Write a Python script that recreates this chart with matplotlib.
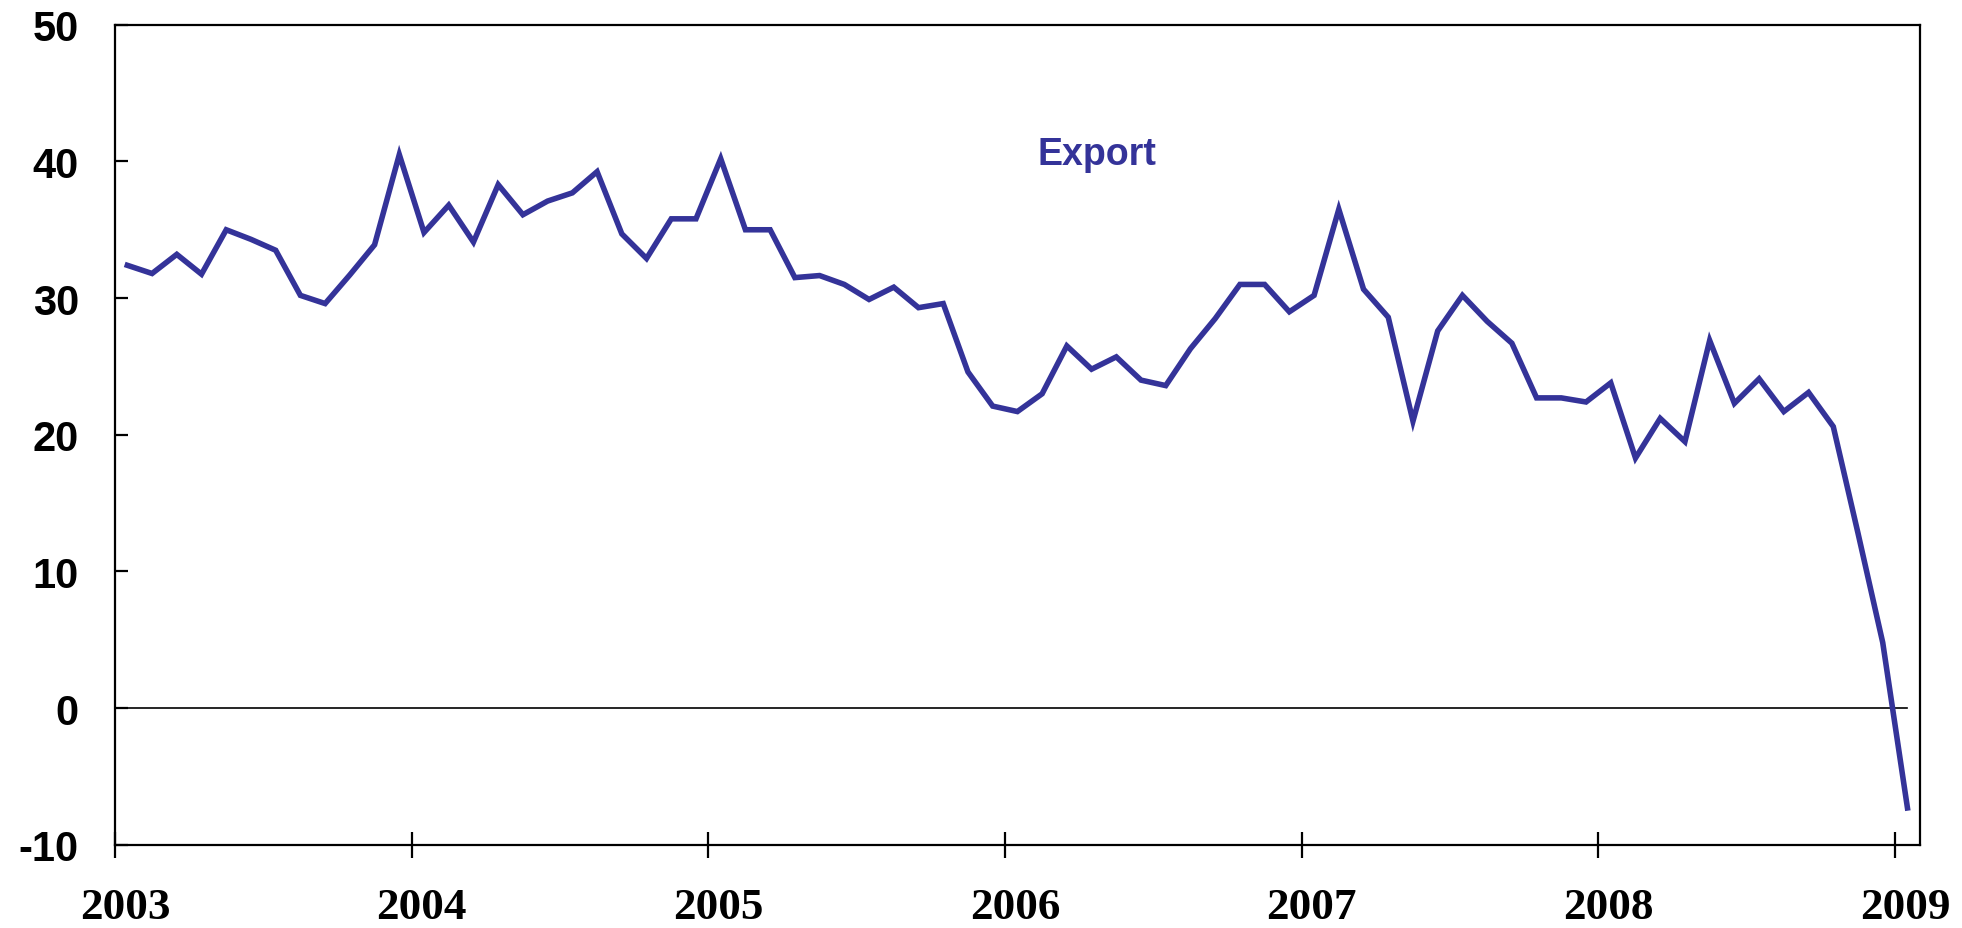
import numpy as np
import matplotlib
matplotlib.use("Agg")
import matplotlib.pyplot as plt
import matplotlib.transforms as mtransforms

# monthly export growth, Jan 2003 .. Jan 2009
export = [32.4, 31.8, 33.2, 31.75, 35.0, 34.3, 33.5, 30.2, 29.6, 31.7, 33.9, 40.5,
          34.8, 36.8, 34.1, 38.3, 36.1, 37.1, 37.7, 39.25, 34.7, 32.9, 35.8, 35.8,
          40.2, 35.0, 35.0, 31.5, 31.65, 31.0, 29.9, 30.8, 29.3, 29.6, 24.6, 22.1,
          21.7, 23.0, 26.5, 24.8, 25.7, 24.0, 23.6, 26.3, 28.5, 31.0, 31.0, 29.0,
          30.2, 36.5, 30.65, 28.6, 21.0, 27.6, 30.2, 28.3, 26.7, 22.7, 22.7, 22.4,
          23.8, 18.3, 21.2, 19.5, 26.9, 22.3, 24.1, 21.7, 23.1, 20.6, 12.8, 4.8,
          -7.3]
years = [2003, 2004, 2005, 2006, 2007, 2008, 2009]
yticks = [-10, 0, 10, 20, 30, 40, 50]

# month i sits half a month right of its year tick
x = 2003 + (np.arange(len(export)) + 0.5) / 12

blue = '#343399'

fig = plt.figure(figsize=(19.62, 9.29), dpi=100)
ax = fig.add_axes([0.0586, 0.0895, 0.92, 0.8828])

ax.plot([x[0] - 0.5 / 12, x[-1]], [0, 0], color='black', lw=1.2)
ax.plot(x, export, color=blue, lw=4, solid_joinstyle='miter')

ax.set_xlim(2003, 2009.084)
ax.set_ylim(-10, 50)
ax.set_xticks(years)
ax.set_xticklabels([str(y) for y in years], family='Liberation Serif',
                   fontweight='bold', fontsize=32.5)
ax.set_yticks(yticks)
ax.set_yticklabels([str(v) for v in yticks], family='Liberation Sans',
                   fontweight='bold', fontsize=30)

ax.tick_params(axis='x', direction='inout', length=18.7, width=1.6, pad=21)
ax.tick_params(axis='y', direction='in', length=9, width=1.6, pad=26)

# x labels sit a little right of their ticks in the original
offset = mtransforms.ScaledTranslation(10 / 100, 0, fig.dpi_scale_trans)
for lab in ax.get_xticklabels():
    lab.set_transform(lab.get_transform() + offset)

for s in ax.spines.values():
    s.set_linewidth(1.6)

ax.text(2006.31, 39.8, 'Export', color=blue, fontsize=27, fontweight='bold',
        family='Liberation Sans', ha='center', va='baseline')

fig.savefig('out.png', dpi=100)
